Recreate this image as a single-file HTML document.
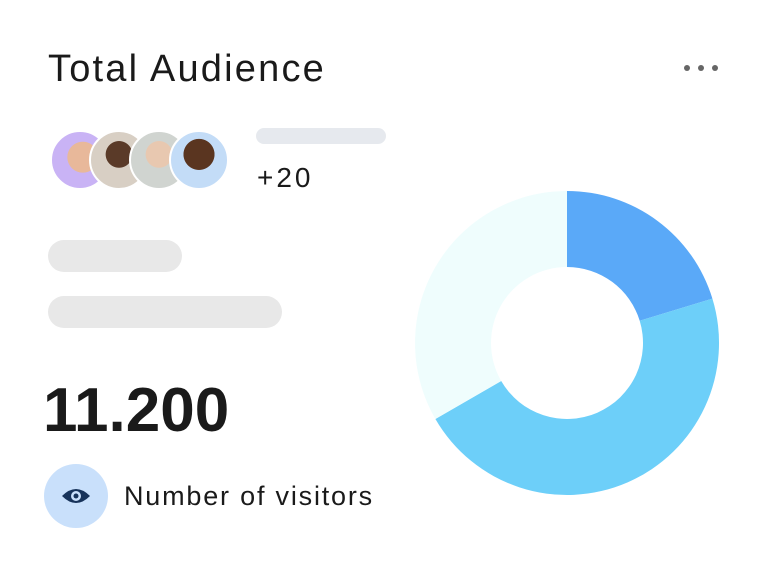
<!DOCTYPE html>
<html><head><style>
body{margin:0;width:768px;height:576px;background:#fff;font-family:"Liberation Sans",sans-serif;position:relative;overflow:hidden}
.t{position:absolute;color:#1a1a1a}
.bar{position:absolute;background:#e8e8e8;border-radius:20px}
.av{position:absolute;width:56px;height:56px;border-radius:50%;border:2px solid #fff;top:130px}
</style></head><body>
<div class="t" style="left:48px;top:48px;font-size:38px;letter-spacing:2.2px">Total Audience</div>
<div style="position:absolute;left:684px;top:65px;width:6px;height:6px;border-radius:50%;background:#666;box-shadow:14px 0 #666,28px 0 #666"></div>
<div class="av" style="left:50px;background:radial-gradient(circle at 55% 45%,#e8b89a 0 35%,#c9b3f5 36%)"></div>
<div class="av" style="left:89px;background:radial-gradient(circle at 50% 40%,#5a3a28 0 30%,#d8cfc4 31%)"></div>
<div class="av" style="left:129px;background:radial-gradient(circle at 50% 40%,#e8c8b0 0 30%,#d0d4d0 31%)"></div>
<div class="av" style="left:169px;background:radial-gradient(circle at 50% 40%,#5a3520 0 35%,#c3dcf7 36%)"></div>
<div class="bar" style="left:256px;top:128px;width:130px;height:16px;background:#e6e9ee"></div>
<div class="t" style="left:257px;top:162px;font-size:28px;letter-spacing:3px">+20</div>
<div class="bar" style="left:48px;top:240px;width:134px;height:32px"></div>
<div class="bar" style="left:48px;top:296px;width:234px;height:32px"></div>
<div class="t" style="left:43px;top:375px;font-size:62px;font-weight:bold">11.200</div>
<div style="position:absolute;left:44px;top:464px;width:64px;height:64px;border-radius:50%;background:#c9e0fb"></div>
<svg style="position:absolute;left:60px;top:482px" width="32" height="28" viewBox="0 0 32 28"><path d="M2 14 Q16 0 30 14 Q16 28 2 14Z" fill="#17335a"/><circle cx="16" cy="14" r="5" fill="#c9e0fb"/><circle cx="16" cy="14" r="2.5" fill="#17335a"/></svg>
<div class="t" style="left:124px;top:481px;font-size:27px;letter-spacing:1.8px">Number of visitors</div>
<svg style="position:absolute;left:0;top:0" width="768" height="576">
<path d="M567 191 A152 152 0 0 1 712.4 298.6 L639.7 320.8 A76 76 0 0 0 567 267Z" fill="#5aa9f8"/>
<path d="M712.4 298.6 A152 152 0 0 1 435.4 419 L501.2 381 A76 76 0 0 0 639.7 320.8Z" fill="#6dcff9"/>
<path d="M435.4 419 A152 152 0 0 1 567 191 L567 267 A76 76 0 0 0 501.2 381Z" fill="#effdfd"/>
</svg>
</body></html>
